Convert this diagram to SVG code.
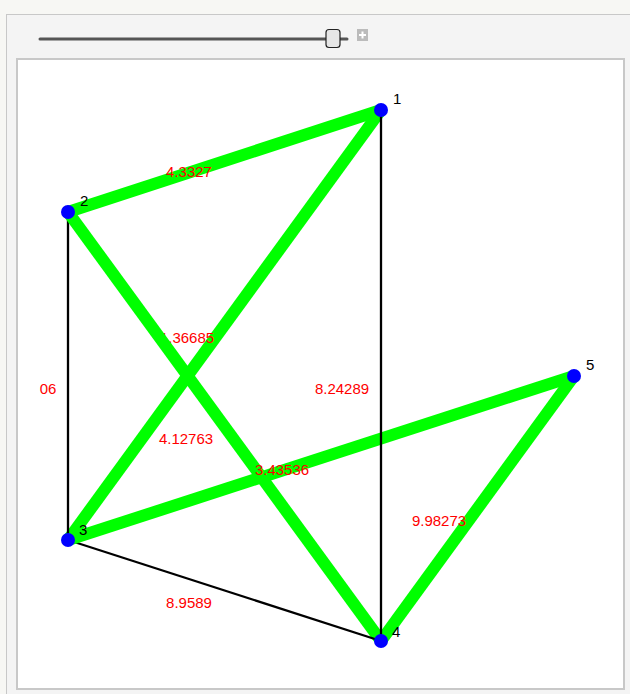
<svg xmlns="http://www.w3.org/2000/svg" width="630" height="694" viewBox="0 0 630 694">
<style>
.g{stroke:#00ff00;stroke-width:12;stroke-linecap:butt}
.k{stroke:#000;stroke-width:2.3}
.el{fill:#ff0000;font-family:"Liberation Sans",Arial,sans-serif;font-size:15px;text-anchor:middle}
.nl{fill:#000;font-family:"Liberation Sans",Arial,sans-serif;font-size:15px}
.n{fill:#0000ff}
</style>
<rect x="0" y="0" width="630" height="694" fill="#f7f7f4"/>
<rect x="6.5" y="14.5" width="630" height="690" fill="#f4f4f4" stroke="#c8c8c8"/>
<g id="slider">
<line x1="40" y1="39" x2="347" y2="39" stroke="#555" stroke-width="3" stroke-linecap="round"/>
<rect x="326" y="29.5" width="14" height="18" rx="3" fill="#e6e6e6" stroke="#222" stroke-width="1.2"/>
<rect x="357" y="29" width="11" height="12" fill="#bbb"/>
<path d="M362.5 31.5v7M359 35h7" stroke="#fff" stroke-width="2"/>
</g>
<rect x="17" y="59" width="607" height="630" fill="#fff" stroke="#c8c8c8" stroke-width="2"/>
<g id="edges">
<line class="g" x1="381" y1="110" x2="68" y2="212"/>
<text class="el" x="189" y="177">4.3327</text>
<line class="g" x1="381" y1="110" x2="68" y2="540"/>
<text class="el" x="187" y="343">1.36685</text>
<line class="k" x1="68" y1="212" x2="68" y2="540"/>
<text class="el" x="48" y="394">06</text>
<line class="g" x1="68" y1="212" x2="381" y2="641"/>
<text class="el" x="186" y="444">4.12763</text>
<line class="k" x1="68" y1="540" x2="381" y2="641"/>
<text class="el" x="189" y="608">8.9589</text>
<line class="g" x1="68" y1="540" x2="574" y2="376"/>
<text class="el" x="282" y="475">3.43536</text>
<line class="g" x1="574" y1="376" x2="381" y2="641"/>
<text class="el" x="439" y="526">9.98273</text>
<line class="k" x1="381" y1="110" x2="381" y2="641"/>
<text class="el" x="342" y="394">8.24289</text>
</g>
<g id="node1"><circle class="n" cx="381" cy="110" r="7"/><text class="nl" x="393" y="104">1</text></g>
<g id="node2"><circle class="n" cx="68" cy="212" r="7"/><text class="nl" x="80" y="206">2</text></g>
<g id="node3"><circle class="n" cx="68" cy="540" r="7"/><text class="nl" x="79" y="535">3</text></g>
<g id="node4"><circle class="n" cx="381" cy="641" r="7"/><text class="nl" x="392" y="637">4</text></g>
<g id="node5"><circle class="n" cx="574" cy="376" r="7"/><text class="nl" x="586" y="370">5</text></g>
</svg>
